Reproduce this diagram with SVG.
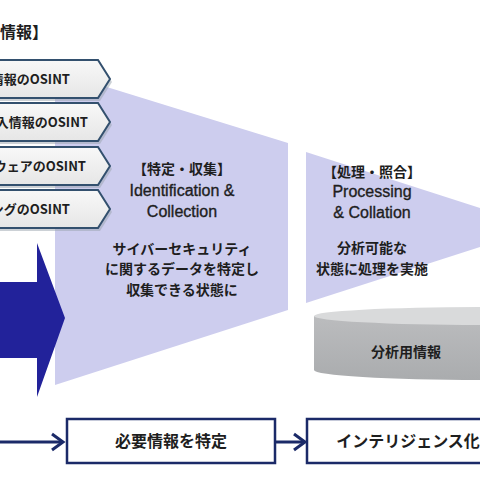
<svg xmlns="http://www.w3.org/2000/svg" width="480" height="480" viewBox="0 0 480 480">
<style>
.jp{font-family:"Noto Sans CJK JP","Liberation Sans",sans-serif;font-weight:bold;fill:#1e1e1e}
.en{font-family:"Liberation Sans",Arial,sans-serif;fill:#1e1e1e;stroke:#1e1e1e;stroke-width:0.35}
.box{fill:url(#boxg);stroke:#33506e;stroke-width:2}
.shadow{fill:#9aa3ad;opacity:0.5}
.funnel{fill:#cdcdee}
.flow{fill:#ffffff;stroke:#1b2a68;stroke-width:2.5}
.conn{fill:none;stroke:#1b2a68;stroke-width:3}
</style>
<defs>
<linearGradient id="boxg" x1="0" y1="0" x2="0" y2="1">
<stop offset="0" stop-color="#f8f8f8"/>
<stop offset="1" stop-color="#e6e6e6"/>
</linearGradient>
<linearGradient id="cylg" x1="0" y1="0" x2="0" y2="1">
<stop offset="0" stop-color="#bbbcbe"/>
<stop offset="1" stop-color="#aaacae"/>
</linearGradient>
</defs>
<rect width="480" height="480" fill="#ffffff"/>

<g id="header"><text class="jp" x="0" y="38" font-size="16">情報】</text></g>

<g id="funnel1">
<polygon class="funnel" points="55,71 288,143 288,310 55,385"/>
<text class="jp" x="182" y="174" font-size="14" text-anchor="middle">【特定・収集】</text>
<text class="en" x="182" y="196" font-size="16" text-anchor="middle">Identification &amp;</text>
<text class="en" x="182" y="217" font-size="16" text-anchor="middle">Collection</text>
<text class="jp" x="182" y="254" font-size="14" text-anchor="middle">サイバーセキュリティ</text>
<text class="jp" x="182" y="274" font-size="14" text-anchor="middle">に関するデータを特定し</text>
<text class="jp" x="182" y="295" font-size="14" text-anchor="middle">収集できる状態に</text>
</g>

<g id="funnel2">
<polygon class="funnel" points="306,152 480,208 480,247 306,303"/>
<text class="jp" x="372" y="177" font-size="14" text-anchor="middle">【処理・照合】</text>
<text class="en" x="372" y="197" font-size="16" text-anchor="middle">Processing</text>
<text class="en" x="372" y="218" font-size="16" text-anchor="middle">&amp; Collation</text>
<text class="jp" x="372" y="253" font-size="14" text-anchor="middle">分析可能な</text>
<text class="jp" x="372" y="274" font-size="14" text-anchor="middle">状態に処理を実施</text>
</g>

<g id="bigarrow">
<polygon points="0,282 37,282 37,243 65,318 37,397 37,358 0,358" fill="#22229a"/>
</g>

<g id="osint1">
<polygon class="shadow" points="-10,63 100,63 112,82 100,101 -10,101"/>
<polygon class="box" points="-10,60 98,60 110,79 98,98 -10,98"/>
<text class="jp" x="70" y="84" font-size="13" text-anchor="end">情報のOSINT</text>
</g>
<g id="osint2">
<polygon class="shadow" points="-10,106 100,106 112,125 100,144 -10,144"/>
<polygon class="box" points="-10,103 98,103 110,122 98,141 -10,141"/>
<text class="jp" x="88" y="127" font-size="13" text-anchor="end">入情報のOSINT</text>
</g>
<g id="osint3">
<polygon class="shadow" points="-10,150 100,150 112,169 100,188 -10,188"/>
<polygon class="box" points="-10,147 98,147 110,166 98,185 -10,185"/>
<text class="jp" x="86" y="171" font-size="13" text-anchor="end">ウェアのOSINT</text>
</g>
<g id="osint4">
<polygon class="shadow" points="-10,193 100,193 112,212 100,231 -10,231"/>
<polygon class="box" points="-10,190 98,190 110,209 98,228 -10,228"/>
<text class="jp" x="70" y="214" font-size="13" text-anchor="end">ングのOSINT</text>
</g>

<g id="cylinder">
<path d="M314,316 L314,370 A166,10 0 0 0 646,370 L646,316 Z" fill="url(#cylg)"/>
<ellipse cx="480" cy="316" rx="166" ry="9" fill="#d9dadb"/>
<text class="jp" x="406" y="357" font-size="14" text-anchor="middle">分析用情報</text>
</g>

<g id="step1">
<rect class="flow" x="67" y="419" width="208" height="44"/>
<text class="jp" x="171" y="447" font-size="16" text-anchor="middle">必要情報を特定</text>
</g>
<g id="step2">
<rect class="flow" x="307" y="419" width="190" height="44"/>
<text class="jp" x="408" y="447" font-size="16" text-anchor="middle">インテリジェンス化</text>
</g>

<g id="connectors">
<path class="conn" d="M0,442 H63"/>
<polyline class="conn" points="52,434 63,442 52,450"/>
<path class="conn" d="M276,442 H304"/>
<polyline class="conn" points="294,434 305,442 294,450"/>
</g>
</svg>
